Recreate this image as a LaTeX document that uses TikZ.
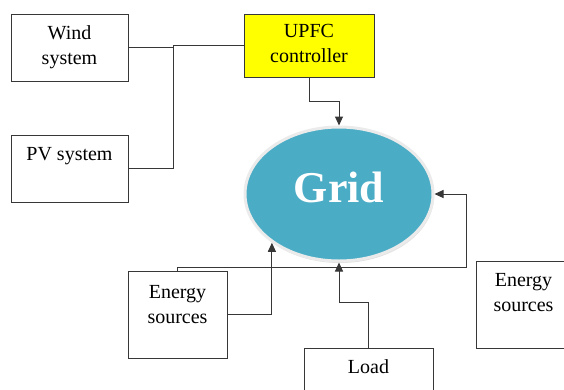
\documentclass[tikz,border=0pt]{standalone}
\usepackage{fontspec}
\setmainfont{Liberation Serif}
\usetikzlibrary{arrows.meta,shapes.geometric,shadows}
\definecolor{gridblue}{RGB}{75,172,198}
\definecolor{wirecol}{RGB}{55,55,55}
\definecolor{upfcyellow}{RGB}{255,255,0}

\begin{document}
\begin{tikzpicture}[x=1pt,y=-1pt,line width=1pt,
  unit/.style={draw=wirecol,fill=white,inner sep=0pt,align=center,font=\fontsize{20}{25}\selectfont},
  gridnode/.style={ellipse,fill=gridblue,draw=white!92!black,line width=3pt,
    minimum width=188pt,minimum height=134pt,text=white,
    font=\fontsize{44}{44}\selectfont\bfseries,text height=30pt,text depth=14pt,
    drop shadow={opacity=0.25,shadow xshift=1pt,shadow yshift=-2pt}},
  wire/.style={draw=wirecol},
  feed/.style={wire,-{Triangle[length=9pt,width=8pt]}}]
 \useasboundingbox (0,0) rectangle (564,389);
 % sources, controller, grid
 \node[unit,minimum width=117pt,text height=50pt,text depth=17pt] (wind) at (69.5,47.5) {Wind\\system};
 \node[unit,minimum width=117pt,text height=25pt,text depth=42pt] (pv) at (69.5,168.5) {PV system};
 \node[unit,fill=upfcyellow,minimum width=130pt,text height=48pt,text depth=15pt] (upfc) at (309,45.5) {UPFC\\controller};
 \node[gridnode] (grid) at (339,194) {Grid};
 \node[unit,minimum width=99pt,text height=52pt,text depth=35pt] (esleft) at (177.5,314.5) {Energy\\sources};
 \node[unit,minimum width=95pt,text height=50pt,text depth=37pt] (esright) at (523.5,304.5) {Energy\\sources};
 \node[unit,minimum width=129pt,text height=25pt,text depth=40pt] (load) at (368.5,380.5) {Load};
 % links
 \coordinate (tie) at (173,45.5);
 \coordinate (bend) at (466,267);
 \draw[wire] (wind.east) -- (wind.east -| tie);
 \draw[wire] (upfc.west) -- (tie) |- (pv.east);
 \draw[feed] (upfc.south) -- ++(0,24) -| (grid.north);
 \draw[feed] (esleft.north) |- (bend) |- (grid.east);
 \draw[feed] (esleft.east) -| (grid.216);
 \draw[feed] (load.north) -- ++(0,-45) -| (grid.south);
\end{tikzpicture}
\end{document}
